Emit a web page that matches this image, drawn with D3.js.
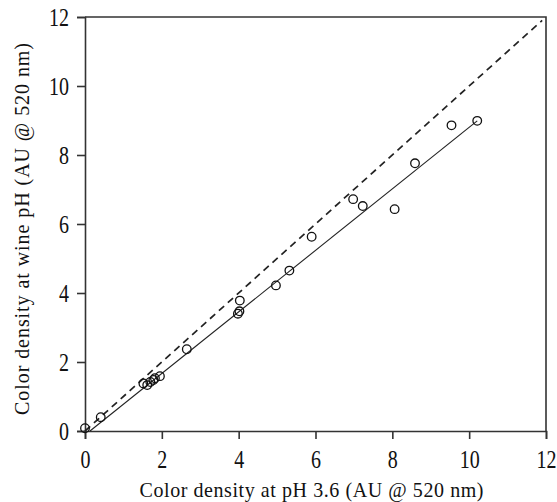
<!DOCTYPE html>
<html lang="en">
<head>
    <meta charset="UTF-8">
    <title>Color density scatter</title>
    <script src="https://d3js.org/d3.v7.min.js"></script>
    <style>
        body { margin: 0; background: #fff; }
        svg text { font-family: "Liberation Serif", "Times New Roman", Times, serif; fill: #111; }
    </style>
</head>
<body>
    <div id="chart"></div>

    <script>
        // Data
        const xVals = [0.0, 0.41, 1.52, 1.62, 1.70, 1.78, 1.82, 1.95, 2.65, 3.98, 4.02, 4.03, 4.97, 5.32, 5.90, 6.98, 7.23, 8.06, 8.59, 9.54, 10.21];
        const yVals = [0.08, 0.40, 1.38, 1.33, 1.42, 1.48, 1.53, 1.59, 2.37, 3.40, 3.47, 3.78, 4.22, 4.65, 5.63, 6.72, 6.52, 6.43, 7.76, 8.86, 8.99];
        const fitX = [0.13, 10.21];
        const fitY = [0, 8.99];
        const refX = [0, 11.9];
        const refY = [0, 11.9];
        const ticks = [0, 2, 4, 6, 8, 10, 12];
        const xTitle = "Color density at pH 3.6 (AU @ 520 nm)";
        const yTitle = "Color density at wine pH (AU @ 520 nm)";

        const width = 557, height = 502;
        const margin = { top: 17, right: 11, bottom: 71, left: 85 };
        const w = width - margin.left - margin.right;
        const h = height - margin.top - margin.bottom;
        const serif = "'Liberation Serif', 'Times New Roman', Times, serif";

        const svg = d3.select("#chart").append("svg")
            .attr("width", width)
            .attr("height", height)
            .attr("font-family", serif);

        const g = svg.append("g")
            .attr("transform", "translate(" + margin.left + "," + margin.top + ")");

        const x = d3.scaleLinear().domain([0, 12]).range([0, w]);
        const y = d3.scaleLinear().domain([0, 12]).range([h, 0]);

        // frame (top and right)
        g.append("path")
            .attr("d", `M0,0H${w}V${h}`)
            .attr("fill", "none")
            .attr("stroke", "#333")
            .attr("stroke-width", 1.6);

        // axes
        const xAxis = g.append("g")
            .attr("transform", "translate(0," + h + ")")
            .call(d3.axisBottom(x).tickValues(ticks).tickSize(8).tickFormat(d3.format("d")));
        const yAxis = g.append("g")
            .call(d3.axisLeft(y).tickValues(ticks).tickSize(8).tickFormat(d3.format("d")));

        [xAxis, yAxis].forEach(a => {
            a.attr("font-family", serif).attr("font-size", 20);
            a.select(".domain").attr("stroke", "#333").attr("stroke-width", 1.6);
            a.selectAll(".tick line").attr("stroke", "#333").attr("stroke-width", 1.6);
            a.selectAll(".tick text").attr("fill", "#111").attr("x", null).attr("y", null).attr("dy", null);
        });
        // tick labels look tall and narrow in the original
        xAxis.selectAll(".tick text").attr("transform", "translate(0,37) scale(1,1.22)");
        yAxis.selectAll(".tick text").attr("transform", "translate(-16,8) scale(1,1.22)");

        // 1:1 dashed line
        const line = d3.line().x(d => x(d[0])).y(d => y(d[1]));
        g.append("path")
            .datum(d3.zip(refX, refY))
            .attr("d", line)
            .attr("fill", "none")
            .attr("stroke", "#222")
            .attr("stroke-width", 1.7)
            .attr("stroke-dasharray", "7,5");

        // regression line
        g.append("path")
            .datum(d3.zip(fitX, fitY))
            .attr("d", line)
            .attr("fill", "none")
            .attr("stroke", "#222")
            .attr("stroke-width", 1.1);

        // points
        g.selectAll("circle.pt")
            .data(d3.zip(xVals, yVals))
            .enter().append("circle")
            .attr("class", "pt")
            .attr("cx", d => x(d[0]))
            .attr("cy", d => y(d[1]))
            .attr("r", 4.3)
            .attr("fill", "none")
            .attr("stroke", "#111")
            .attr("stroke-width", 1.3);

        // axis titles
        svg.append("text")
            .attr("transform", `translate(${margin.left + x(6) - 4},497) scale(1,1.1)`)
            .attr("text-anchor", "middle")
            .attr("textLength", 344)
            .attr("lengthAdjust", "spacing")
            .attr("font-size", 20)
            .text(xTitle);

        svg.append("text")
            .attr("transform", "translate(29,229) rotate(-90)")
            .attr("text-anchor", "middle")
            .attr("textLength", 372)
            .attr("lengthAdjust", "spacing")
            .attr("font-size", 20)
            .text(yTitle);
    </script>
</body>
</html>
